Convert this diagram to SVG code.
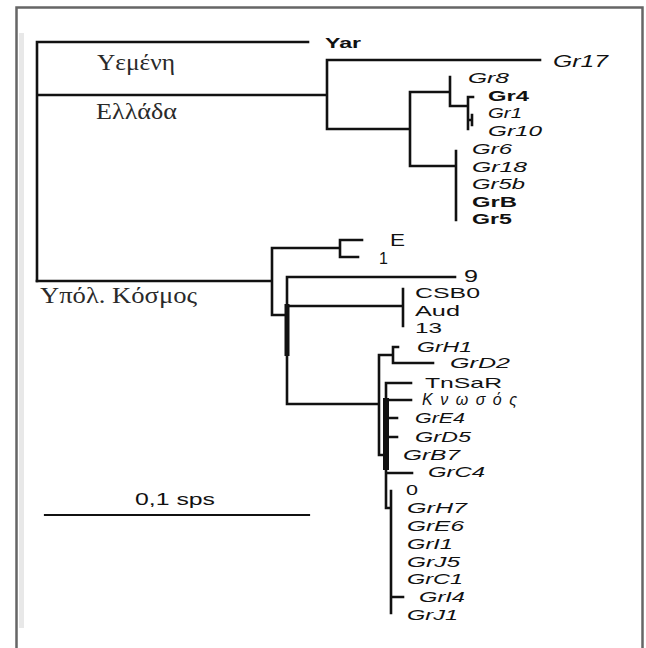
<svg xmlns="http://www.w3.org/2000/svg" width="646" height="648" viewBox="0 0 646 648">
<style>
.frame{fill:none;stroke:#666;stroke-width:2.5}
.br{fill:none;stroke:#111;stroke-width:2.6;stroke-linecap:square}
.s{font-family:"Liberation Sans",Arial,sans-serif;font-size:15px;fill:#111}
.i{font-style:italic}
.b{font-weight:bold}
.g{font-family:"Liberation Serif","Times New Roman",serif;font-size:23px;fill:#2a2a2a}
</style>
<rect x="0" y="0" width="646" height="648" fill="#fff"/>
<rect x="19" y="33" width="5" height="595" fill="#e8e8e8"/>
<rect class="frame" x="16.5" y="7.5" width="626" height="660"/>

<g id="connectors">
  <path class="br" d="M37,42 V281 M37,42 H308 M37,95 H327 M327,60 V129 M327,60 H540 M327,129 H410
    M410,92 V166 M410,92 H450 M450,77 V106 H468 M468,97 V129 M468,97 H473 M468,120 H472 M472,115 V125
    M410,166 H456 M456,151 V220"/>
  <path class="br" d="M37,281 H272 M272,248 V315 M272,248 H340 M340,240 V257 M340,240 H362 M340,257 H358
    M272,315 H287 M287,277 V404 M287,277 H455 M289,306 H403 M403,289 V326 M289,404 H379
    M379,355 V455 H384 M379,355 H393 M393,347 V363 M393,347 H398 M393,363 H433
    M386,383 V508 M386,383 H411 M386,400 H411 M386,418 H397 M386,437 H397 M386,473 H412
    M386,508 H391 M391,491 V613 M391,597 H403"/>
  <rect x="284.5" y="304" width="5" height="52" fill="#111"/>
  <rect x="383" y="398" width="6" height="72" fill="#111"/>
  <path class="br" d="M45,515 H309" style="stroke-width:2.2"/>
</g>

<g id="region-labels">
  <text class="g" x="97" y="70" textLength="78" lengthAdjust="spacingAndGlyphs">Υεμένη</text>
  <text class="g" x="96" y="119" textLength="81" lengthAdjust="spacingAndGlyphs">Ελλάδα</text>
  <text class="g" x="40" y="303" textLength="157" lengthAdjust="spacingAndGlyphs">Υπόλ. Κόσμος</text>
</g>

<g id="scale">
  <text class="s" x="135" y="505" style="font-size:16px" textLength="80" lengthAdjust="spacingAndGlyphs">0,1 sps</text>
</g>

<g id="node-Yar"><text class="s b" x="325" y="48" textLength="36" lengthAdjust="spacingAndGlyphs">Yar</text></g>
<g id="node-Gr17"><text class="s i" x="553" y="67" style="font-size:16px" textLength="55" lengthAdjust="spacingAndGlyphs">Gr17</text></g>
<g id="node-Gr8"><text class="s i" x="468" y="83" textLength="41" lengthAdjust="spacingAndGlyphs">Gr8</text></g>
<g id="node-Gr4"><text class="s b" x="488" y="101" textLength="41" lengthAdjust="spacingAndGlyphs">Gr4</text></g>
<g id="node-Gr1"><text class="s i" x="488" y="118" textLength="34" lengthAdjust="spacingAndGlyphs">Gr1</text></g>
<g id="node-Gr10"><text class="s i" x="488" y="136" textLength="54" lengthAdjust="spacingAndGlyphs">Gr10</text></g>
<g id="node-Gr6"><text class="s i" x="472" y="154" textLength="40" lengthAdjust="spacingAndGlyphs">Gr6</text></g>
<g id="node-Gr18"><text class="s i" x="472" y="172" textLength="55" lengthAdjust="spacingAndGlyphs">Gr18</text></g>
<g id="node-Gr5b"><text class="s i" x="472" y="189" textLength="53" lengthAdjust="spacingAndGlyphs">Gr5b</text></g>
<g id="node-GrB"><text class="s b" x="472" y="207" textLength="45" lengthAdjust="spacingAndGlyphs">GrB</text></g>
<g id="node-Gr5"><text class="s b" x="472" y="224" textLength="40" lengthAdjust="spacingAndGlyphs">Gr5</text></g>

<g id="node-E"><text class="s" x="390" y="246" style="font-size:16px" textLength="15" lengthAdjust="spacingAndGlyphs">E</text></g>
<g id="node-1"><text class="s" x="379" y="264" style="font-size:16px">1</text></g>
<g id="node-9"><text class="s" x="464" y="282" style="font-size:16px" textLength="14" lengthAdjust="spacingAndGlyphs">9</text></g>
<g id="node-CSB0"><text class="s" x="415" y="298" textLength="65" lengthAdjust="spacingAndGlyphs">CSB0</text></g>
<g id="node-Aud"><text class="s" x="415" y="316" textLength="45" lengthAdjust="spacingAndGlyphs">Aud</text></g>
<g id="node-13"><text class="s" x="415" y="333" textLength="27" lengthAdjust="spacingAndGlyphs">13</text></g>
<g id="node-GrH1"><text class="s i" x="417" y="352" textLength="55" lengthAdjust="spacingAndGlyphs">GrH1</text></g>
<g id="node-GrD2"><text class="s i" x="450" y="368" textLength="60" lengthAdjust="spacingAndGlyphs">GrD2</text></g>
<g id="node-TnSaR"><text class="s" x="425" y="388" textLength="77" lengthAdjust="spacingAndGlyphs">TnSaR</text></g>
<g id="node-Knossos"><text class="s i" x="422" y="405" style="font-size:16px" textLength="95" lengthAdjust="spacing">Κνωσός</text></g>
<g id="node-GrE4"><text class="s i" x="415" y="423" textLength="50" lengthAdjust="spacingAndGlyphs">GrE4</text></g>
<g id="node-GrD5"><text class="s i" x="415" y="442" textLength="56" lengthAdjust="spacingAndGlyphs">GrD5</text></g>
<g id="node-GrB7"><text class="s i" x="403" y="460" textLength="57" lengthAdjust="spacingAndGlyphs">GrB7</text></g>
<g id="node-GrC4"><text class="s i" x="428" y="477" textLength="57" lengthAdjust="spacingAndGlyphs">GrC4</text></g>
<g id="node-0"><text class="s" x="406" y="495" textLength="12" lengthAdjust="spacingAndGlyphs">0</text></g>
<g id="node-GrH7"><text class="s i" x="407" y="513" textLength="60" lengthAdjust="spacingAndGlyphs">GrH7</text></g>
<g id="node-GrE6"><text class="s i" x="407" y="531" textLength="57" lengthAdjust="spacingAndGlyphs">GrE6</text></g>
<g id="node-GrI1"><text class="s i" x="407" y="549" textLength="46" lengthAdjust="spacingAndGlyphs">GrI1</text></g>
<g id="node-GrJ5"><text class="s i" x="407" y="567" textLength="53" lengthAdjust="spacingAndGlyphs">GrJ5</text></g>
<g id="node-GrC1"><text class="s i" x="407" y="584" textLength="56" lengthAdjust="spacingAndGlyphs">GrC1</text></g>
<g id="node-GrI4"><text class="s i" x="419" y="602" textLength="46" lengthAdjust="spacingAndGlyphs">GrI4</text></g>
<g id="node-GrJ1"><text class="s i" x="407" y="620" textLength="51" lengthAdjust="spacingAndGlyphs">GrJ1</text></g>
</svg>
